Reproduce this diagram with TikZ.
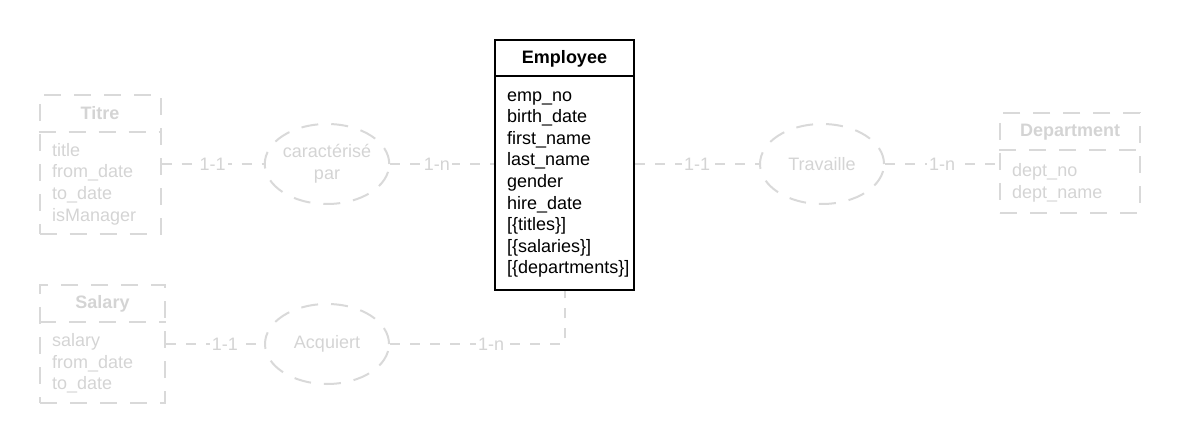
\documentclass[tikz,border=0pt]{standalone}
\usepackage{fontspec}
\setmainfont{Liberation Sans}
\usetikzlibrary{shapes.geometric}
\definecolor{lg}{HTML}{D9D9D9}
\definecolor{lt}{HTML}{D4D4D4}
\begin{document}
\begin{tikzpicture}[x=1pt,y=-1pt,
  every node/.style={font=\fontsize{18}{21.6}\selectfont, inner sep=0pt},
  gline/.style={draw=lg, line width=2pt, dash pattern=on 10pt off 10pt},
  gshape/.style={draw=lg, line width=2pt, dash pattern=on 17pt off 13pt},
  gbox/.style={gshape, rectangle},
  bbox/.style={draw=black, line width=2pt, rectangle},
  rel/.style={gshape, ellipse, minimum width=124pt, minimum height=80pt, text=lt, align=center},
  lab/.style={fill=white, text=lt, inner sep=2pt},
  gtitle/.style={text=lt, font=\fontsize{18}{21.6}\selectfont\bfseries},
  gattr/.style={text=lt, anchor=west, align=left},
  battr/.style={text=black, anchor=west, align=left}
]
\useasboundingbox (0,0) rectangle (1180,443);
% Titre
\node[gbox, minimum width=121pt, minimum height=139pt] (titre) at (100,164.5) {};
\draw[gshape] ([yshift=-38pt]titre.north west) -- ([yshift=-38pt]titre.north east);
\node[gtitle] (titreT) at (100,113) {Titre};
\node[gattr] (titreA) at (52,184) {title\\from\_date\\to\_date\\isManager};
% Salary
\node[gbox, minimum width=125pt, minimum height=118pt] (sal) at (102.5,344) {};
\draw[gshape] ([yshift=-38pt]sal.north west) -- ([yshift=-38pt]sal.north east);
\node[gtitle] (salT) at (102.5,304) {Salary};
\node[gattr] (salA) at (52,363.5) {salary\\from\_date\\to\_date};
% Department
\node[gbox, minimum width=140pt, minimum height=100pt] (dept) at (1070,163) {};
\draw[gshape] ([yshift=-38pt]dept.north west) -- ([yshift=-38pt]dept.north east);
\node[gtitle] (deptT) at (1070,132) {Department};
\node[gattr] (deptA) at (1012,183) {dept\_no\\dept\_name};
% Employee
\node[bbox, minimum width=139pt, minimum height=250pt] (emp) at (564.5,165) {};
\draw[black, line width=2pt] ([yshift=-37pt]emp.north west) -- ([yshift=-37pt]emp.north east);
\node[font=\fontsize{18}{21.6}\selectfont\bfseries] (empT) at (564.5,59) {Employee};
\node[battr] (empA) at (507,184.5) {emp\_no\\birth\_date\\first\_name\\last\_name\\gender\\hire\_date\\{[}\{titles\}{]}\\{[}\{salaries\}{]}\\{[}\{departments\}{]}};
% Relations
\node[rel] (car) at (327,164) {caractérisé\\par};
\node[rel] (acq) at (327,344) {Acquiert};
\node[rel] (trav) at (822,164) {Travaille};
% Connectors
\draw[gline] (titre.east |- car.west) -- node[lab] {1-1} (car.west);
\draw[gline] (car.east) -- node[lab, pos=0.45] {1-n} (car.east -| emp.west);
\draw[gline] (emp.east |- trav.west) -- node[lab] {1-1} (trav.west);
\draw[gline] (trav.east) -- node[lab] {1-n} (trav.east -| dept.west);
\draw[gline] (sal.east |- acq.west) -- node[lab, pos=0.6] {1-1} (acq.west);
\draw[gline] (acq.east) -- node[lab, pos=0.58] {1-n} (acq.east -| emp.south) -- (emp.south);
\end{tikzpicture}
\end{document}
